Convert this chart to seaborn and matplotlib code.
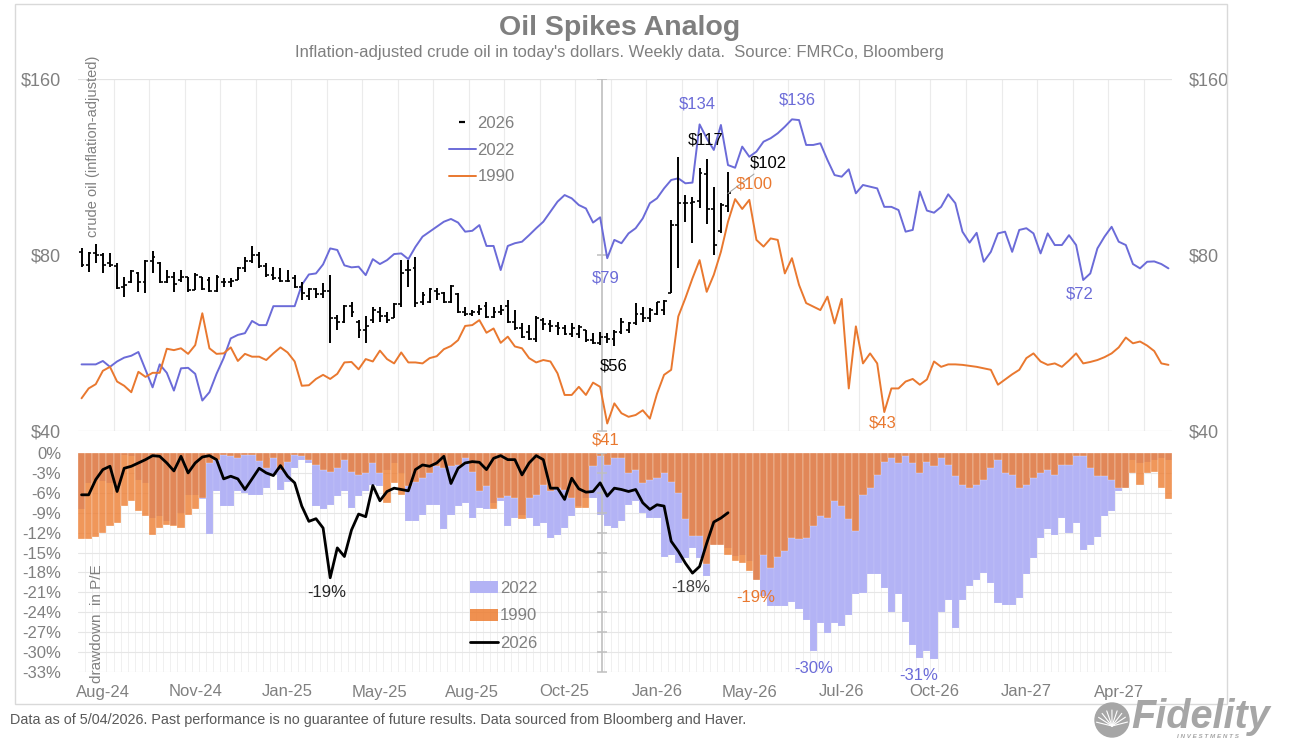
import numpy as np
import pandas as pd
import seaborn as sns
import matplotlib.pyplot as plt
from matplotlib.lines import Line2D
from matplotlib.patches import Patch, Rectangle, Ellipse

# inflation-adjusted crude oil, weekly ($), aligned analogs
oil_2022 = [
    52.0, 52.0, 52.0, 52.7, 51.5, 52.6, 53.4, 53.8, 54.6, 50.9,
    47.5, 52.0, 50.3, 46.9, 51.2, 51.3, 50.1, 45.1, 46.6, 50.1,
    53.3, 57.6, 58.4, 58.8, 61.7, 60.7, 60.7, 65.4, 65.4, 65.4,
    65.4, 71.1, 74.1, 74.4, 77.1, 82.1, 81.6, 76.8, 76.2, 76.4,
    73.9, 78.7, 77.2, 78.4, 80.3, 80.5, 78.7, 82.6, 86.0, 87.7,
    89.4, 91.2, 92.2, 90.9, 87.7, 88.0, 90.0, 82.9, 82.9, 75.4,
    82.9, 83.8, 84.3, 86.5, 88.9, 91.2, 94.9, 98.7, 101.3, 100.0,
    97.4, 96.1, 90.9, 92.8, 79.0, 84.9, 83.8, 87.1, 88.9, 92.4,
    98.1, 100.0, 104.0, 107.5, 108.2, 106.1, 106.4, 133.8, 126.7, 121.0,
    133.5, 114.0, 112.8, 122.6, 117.8, 120.2, 125.0, 126.7, 129.2, 132.6,
    136.5, 136.1, 123.4, 123.4, 124.2, 116.3, 109.6, 108.9, 112.1, 102.0,
    105.4, 104.7, 104.0, 96.7, 96.7, 95.5, 87.7, 88.3, 102.7, 95.3,
    94.5, 96.7, 101.6, 98.1, 87.7, 84.0, 87.3, 77.9, 81.0, 87.1,
    87.7, 81.0, 88.3, 88.9, 87.1, 80.5, 87.1, 83.2, 83.2, 86.5,
    83.2, 72.5, 74.4, 82.1, 86.0, 89.4, 84.3, 83.2, 77.2, 75.9,
    77.9, 78.0, 77.2, 75.9,
]
oil_1990 = [
    45.5, 47.3, 48.1, 50.7, 51.5, 48.6, 47.8, 46.6, 50.5, 49.5,
    50.3, 50.3, 55.3, 55.0, 55.4, 54.2, 56.1, 63.6, 55.4, 54.2,
    54.3, 55.6, 52.7, 54.2, 53.6, 53.6, 52.9, 54.3, 55.6, 54.5,
    52.6, 47.8, 47.9, 49.1, 49.9, 49.1, 50.1, 52.4, 52.5, 51.0,
    53.1, 52.6, 54.9, 53.1, 52.2, 54.5, 52.4, 52.4, 52.2, 53.3,
    53.7, 55.2, 55.9, 57.2, 60.5, 60.7, 61.9, 58.9, 59.9, 56.6,
    58.0, 55.8, 55.4, 53.3, 52.4, 52.9, 52.6, 50.2, 46.1, 46.1,
    47.6, 46.1, 48.4, 47.6, 41.2, 44.6, 42.9, 42.3, 42.6, 43.4,
    42.0, 46.3, 49.9, 50.9, 62.8, 67.5, 73.0, 78.4, 69.2, 74.0,
    81.0, 91.2, 99.7, 95.9, 99.4, 84.9, 82.7, 85.4, 84.9, 74.4,
    79.0, 71.1, 66.2, 65.3, 64.4, 67.9, 61.1, 67.3, 47.3, 60.4,
    52.2, 54.3, 52.2, 43.1, 47.3, 47.3, 48.6, 49.1, 48.0, 49.0,
    52.6, 51.5, 52.0, 52.0, 51.9, 51.7, 51.5, 51.2, 50.9, 48.0,
    49.0, 50.0, 50.9, 53.3, 54.3, 52.6, 51.9, 52.2, 51.5, 52.8,
    54.3, 52.2, 52.5, 52.9, 53.5, 54.3, 55.6, 57.8, 56.5, 56.9,
    56.0, 54.8, 52.2, 51.9,
]

# 2026 weekly bars (open / high / low / close)
ohlc_open = [
    81.0, 77.0, 80.5, 80.0, 77.5, 76.5, 70.5, 71.8, 74.5, 72.0,
    78.0, 77.5, 72.0, 73.5, 72.5, 73.3, 69.8, 73.3, 72.5, 69.5,
    72.0, 71.8, 72.5, 76.0, 78.0, 80.0, 76.5, 74.0, 73.0, 72.3,
    73.0, 70.6, 68.0, 70.0, 68.5, 69.5, 62.3, 61.5, 65.5, 61.5,
    59.5, 62.0, 64.0, 63.0, 62.5, 66.0, 75.4, 76.0, 66.5, 66.5,
    69.5, 69.0, 66.5, 68.5, 64.0, 63.5, 63.8, 65.5, 62.6, 64.0,
    65.5, 61.5, 60.0, 59.0, 57.5, 62.0, 61.0, 60.5, 60.0, 58.6,
    58.5, 59.5, 57.2, 56.5, 58.0, 57.5, 59.0, 59.5, 61.3, 63.5,
    62.5, 63.5, 64.5, 69.0, 90.0, 98.0, 98.0, 99.0, 110.0, 96.0,
    88.0, 97.0,
]
ohlc_high = [
    82.1, 81.0, 83.5, 80.5, 80.5, 77.4, 73.5, 75.4, 74.9, 78.4,
    81.4, 77.9, 75.4, 74.9, 75.4, 73.5, 74.4, 73.5, 73.5, 73.9,
    73.0, 73.0, 76.4, 79.5, 82.9, 81.0, 77.4, 76.4, 75.9, 75.4,
    73.9, 72.0, 70.2, 70.2, 71.6, 73.9, 63.2, 65.7, 66.6, 61.9,
    62.8, 65.3, 65.3, 64.0, 66.2, 78.4, 78.4, 79.5, 69.2, 70.2,
    70.2, 69.2, 71.1, 68.8, 65.3, 64.4, 65.7, 66.6, 65.3, 65.7,
    67.0, 64.4, 61.1, 60.7, 62.8, 62.3, 61.9, 61.5, 60.7, 61.1,
    60.7, 59.5, 58.8, 59.1, 58.8, 59.5, 62.3, 61.5, 66.2, 65.3,
    65.0, 66.6, 67.0, 91.8, 117.5, 101.3, 100.7, 112.6, 116.8, 104.7,
    98.1, 110.8,
]
ohlc_low = [
    76.4, 74.9, 77.4, 74.4, 76.4, 69.9, 67.9, 71.6, 69.2, 69.0,
    74.4, 71.6, 71.6, 69.2, 72.0, 69.2, 69.7, 69.7, 69.2, 69.2,
    70.6, 70.6, 72.5, 74.9, 77.4, 75.9, 73.5, 72.5, 72.0, 72.0,
    70.2, 67.0, 67.0, 67.5, 67.5, 56.5, 59.5, 61.1, 62.7, 57.6,
    56.5, 61.1, 61.5, 61.1, 62.3, 65.3, 70.6, 65.3, 65.7, 66.2,
    67.0, 66.2, 66.2, 63.6, 62.9, 62.8, 63.2, 62.3, 62.3, 63.2,
    61.1, 59.5, 57.6, 57.2, 56.9, 59.5, 59.1, 58.4, 58.4, 58.0,
    57.6, 56.9, 56.3, 56.2, 56.5, 55.8, 58.5, 58.8, 60.7, 61.4,
    61.4, 63.2, 63.2, 68.8, 76.1, 91.2, 83.8, 96.1, 90.3, 80.0,
    87.1, 94.6,
]
ohlc_close = [
    77.0, 80.5, 80.0, 77.0, 76.8, 70.3, 71.0, 75.0, 72.0, 78.0,
    79.5, 72.0, 73.5, 71.5, 73.5, 69.6, 74.0, 70.0, 69.5, 73.5,
    71.8, 72.3, 76.0, 78.0, 80.0, 76.5, 74.0, 73.0, 72.3, 72.2,
    70.6, 69.0, 70.0, 68.5, 69.5, 62.3, 61.5, 65.5, 64.0, 59.5,
    60.5, 64.5, 63.0, 62.0, 66.0, 74.4, 75.4, 66.2, 68.4, 70.0,
    68.5, 66.5, 70.8, 64.0, 63.5, 63.8, 64.8, 62.6, 64.0, 64.5,
    61.5, 60.0, 58.0, 57.5, 62.5, 61.0, 60.5, 60.0, 58.6, 60.0,
    60.3, 57.2, 56.5, 58.0, 57.5, 59.0, 61.5, 61.3, 63.5, 62.5,
    64.5, 66.4, 66.8, 90.0, 98.1, 98.1, 98.7, 110.4, 95.9, 83.2,
    97.4, 102.0,
]

# drawdown in P/E (%)
dd_2022 = [
    -8.5, -4.5, -4.0, -4.2, -4.5, -5.0, -0.3, -0.5, -4.0, -4.5,
    -9.8, -9.5, -10.3, -10.8, -9.0, -6.3, -6.3, -7.0, -12.2, -5.8,
    -8.0, -8.0, -5.8, -6.0, -6.3, -6.3, -5.3, -3.3, -5.5, -4.3,
    -2.3, -1.0, -1.5, -8.0, -8.5, -7.8, -6.5, -5.8, -8.3, -6.5,
    -5.8, -4.8, -5.0, -2.5, -1.5, -3.0, -10.3, -10.3, -9.3, -7.8,
    -7.8, -11.5, -9.3, -8.0, -7.5, -9.8, -8.3, -8.5, -7.5, -7.3,
    -11.0, -9.8, -9.3, -9.8, -11.0, -10.5, -12.8, -12.3, -11.3, -9.5,
    -8.0, -6.8, -6.8, -9.3, -11.0, -11.3, -10.3, -7.8, -7.3, -9.0,
    -9.8, -9.8, -15.6, -15.3, -16.6, -15.8, -14.3, -15.8, -18.6, -13.8,
    -13.8, -14.3, -15.5, -15.3, -16.3, -19.1, -21.5, -23.0, -23.0, -23.0,
    -22.5, -23.5, -25.1, -29.9, -25.6, -27.1, -25.6, -26.1, -24.4, -21.3,
    -21.1, -18.3, -18.3, -20.3, -23.9, -21.3, -25.4, -28.9, -30.9, -29.9,
    -31.0, -23.9, -22.1, -26.4, -22.1, -20.1, -19.1, -18.1, -19.6, -22.6,
    -22.9, -22.9, -21.9, -18.3, -15.8, -12.8, -11.5, -12.3, -9.8, -12.1,
    -10.5, -14.6, -13.8, -12.6, -9.5, -8.8, -5.8, -5.3, -1.0, -1.5,
    -1.3, -1.0, -0.8, -1.0,
]
dd_1990 = [
    -13.0, -13.0, -12.7, -12.1, -11.0, -10.5, -8.0, -7.3, -8.8, -9.5,
    -12.4, -11.3, -10.8, -11.0, -11.3, -9.3, -8.5, -6.8, -1.5, -1.0,
    -0.3, -0.5, -0.8, -0.3, -0.3, -1.2, -2.3, -0.8, -2.5, -1.3,
    -0.3, -0.5, -1.0, -1.8, -2.5, -2.8, -2.2, -1.0, -2.8, -3.3,
    -3.0, -1.5, -3.0, -7.5, -4.5, -6.3, -5.0, -4.3, -3.8, -3.0,
    -2.0, -2.3, -2.0, -1.8, -0.8, -2.8, -5.8, -5.0, -8.5, -6.8,
    -6.5, -6.8, -9.9, -6.8, -6.3, -4.8, -5.8, -5.3, -5.5, -6.8,
    -8.3, -8.3, -2.0, -0.5, -1.8, -0.8, -0.8, -3.0, -2.5, -4.5,
    -4.0, -3.8, -3.0, -4.3, -6.0, -10.0, -12.5, -12.5, -16.8, -13.8,
    -13.8, -15.3, -16.3, -16.6, -17.8, -19.1, -15.3, -17.3, -15.6, -14.8,
    -12.8, -13.0, -12.8, -11.0, -9.5, -9.8, -7.3, -8.0, -10.0, -11.8,
    -6.3, -5.3, -3.3, -1.3, -0.8, -1.5, -0.5, -1.5, -3.0, -1.3,
    -2.0, -0.8, -1.8, -3.5, -4.8, -5.3, -4.8, -4.0, -2.3, -1.0,
    -3.0, -3.3, -5.3, -4.8, -3.8, -3.0, -2.5, -3.3, -1.8, -1.8,
    -0.5, -0.5, -2.3, -3.5, -3.5, -4.0, -5.3, -5.3, -3.0, -4.8,
    -3.0, -2.8, -5.3, -7.0,
]
dd_2026 = [
    -6.3, -6.3, -4.0, -2.5, -2.0, -5.8, -2.3, -2.0, -1.5, -1.0,
    -0.4, -0.5, -1.5, -2.7, -0.5, -3.0, -1.5, -0.6, -0.4, -1.0,
    -3.9, -3.5, -3.9, -5.5, -3.9, -2.3, -3.0, -3.4, -1.9, -3.5,
    -4.5, -8.0, -10.3, -9.9, -11.3, -18.8, -14.3, -15.6, -11.6, -9.2,
    -9.6, -4.9, -7.2, -5.8, -5.3, -5.5, -5.7, -2.5, -1.8, -2.0,
    -1.5, -0.5, -4.6, -2.3, -1.5, -1.3, -1.4, -2.5, -0.8, -0.4,
    -1.0, -1.0, -3.3, -1.5, -0.4, -1.0, -5.3, -5.3, -7.0, -3.8,
    -5.4, -5.9, -5.8, -4.5, -6.5, -5.3, -5.5, -5.8, -5.5, -7.5,
    -8.5, -7.8, -8.0, -13.3, -14.8, -16.6, -18.1, -17.1, -13.6, -10.4,
    -9.8, -9.0,
]

tick_labels = ["Aug-24", "Nov-24", "Jan-25", "May-25", "Aug-25", "Oct-25",
               "Jan-26", "May-26", "Jul-26", "Oct-26", "Jan-27", "Apr-27"]

BLUE = "#6B6BD8"
ORANGE = "#E9782F"
PURPLE = "#B3B3F5"
BAR_ORANGE = "#ED7D31"
GRAY = "#808080"

sns.set_theme(style="white")
plt.rcParams["font.family"] = ["Liberation Sans", "DejaVu Sans"]

W, H = 1295, 751
fig = plt.figure(figsize=(W / 100, H / 100), dpi=100)


def box(left, top, right, bottom):
    return [left / W, 1 - bottom / H, (right - left) / W, (bottom - top) / H]


ax1 = fig.add_axes(box(78, 79, 1172, 431))
ax2 = fig.add_axes(box(78, 453, 1172, 672))

weeks = np.arange(len(oil_2022))
weeks_26 = np.arange(len(ohlc_close))
df = pd.DataFrame({"week": weeks, "oil_2022": oil_2022, "oil_1990": oil_1990,
                   "dd_2022": dd_2022, "dd_1990": dd_1990})
analog_x = 73.3  # where the analogs are lined up

# ---- top panel: oil
ax1.set_yscale("log", base=2)
for x in np.arange(4.5, len(weeks), 5):
    ax1.axvline(x, color="#EBEBEB", lw=0.8, zorder=0)
for y in [40, 160]:
    ax1.axhline(y, color="#E3E3E3", lw=0.9, zorder=0)
ax1.axvline(analog_x, color="#BFBFBF", lw=1.2, zorder=1)
ax1.plot([analog_x] * 3, [40, 80, 160], marker="_", ms=7, mew=1.1,
         color="#BFBFBF", ls="none", zorder=1)

sns.lineplot(data=df, x="week", y="oil_2022", ax=ax1, color=BLUE, lw=1.4, zorder=2)
sns.lineplot(data=df, x="week", y="oil_1990", ax=ax1, color=ORANGE, lw=1.4, zorder=2)

ax1.vlines(weeks_26, ohlc_low, ohlc_high, color="black", lw=1.4, zorder=3)
ax1.hlines(ohlc_open, weeks_26 - 0.4, weeks_26, color="black", lw=1.2, zorder=3)
ax1.hlines(ohlc_close, weeks_26, weeks_26 + 0.4, color="black", lw=1.2, zorder=3)

ax1.set_xlim(-0.5, len(weeks) - 0.5)
ax1.set_ylim(40, 160)
ax1.minorticks_off()
ax1.set_yticks([40, 80, 160])
ax1.set_yticklabels(["$40", "$80", "$160"])
ax1.tick_params(axis="y", length=0, pad=12, labelsize=13, labelcolor=GRAY,
                labelright=True)
ax1.tick_params(axis="x", length=0, labelbottom=False)
ax1.set_xlabel("")
ax1.set_ylabel("")
for s in ax1.spines.values():
    s.set_visible(False)


def note(ax, text, xy, off, color, **kw):
    ax.annotate(text, xy=xy, xytext=off, textcoords="offset pixels",
                ha=kw.pop("ha", "center"), va="center", color=color,
                fontsize=12, **kw)


note(ax1, "$134", (87, oil_2022[87]), (-2, 20), BLUE)
note(ax1, "$136", (100, oil_2022[100]), (5, 19), BLUE)
note(ax1, "$117", (88, ohlc_high[88]), (-1, 19), "black")
note(ax1, "$102", (91, ohlc_close[91]), (22, 30), "black", ha="left",
     arrowprops=dict(arrowstyle="-", color="#A6A6A6", lw=0.8,
                     shrinkA=0, shrinkB=0))
note(ax1, "$100", (92, oil_1990[92]), (19, 15), ORANGE)
note(ax1, "$79", (74, oil_2022[74]), (-2, -20), BLUE)
note(ax1, "$56", (75, ohlc_low[75]), (-1, -20), "black")
note(ax1, "$41", (74, oil_1990[74]), (-2, -17), ORANGE, annotation_clip=False)
note(ax1, "$43", (113, oil_1990[113]), (-2, -11), ORANGE)
note(ax1, "$72", (141, oil_2022[141]), (-3, -14), BLUE)

# ---- bottom panel: P/E drawdowns
for x in np.arange(0.5, len(weeks), 1):
    ax2.axvline(x, color="#F0F0F0", lw=0.7, zorder=0)
for y in range(0, -34, -3):
    ax2.axhline(y, color="#E6E6E6", lw=0.8, zorder=0)

edge = (1, 1, 1, 0.25)
sns.barplot(data=df, x="week", y="dd_2022", native_scale=True, width=1.0,
            color=PURPLE, saturation=1, errorbar=None, edgecolor=edge,
            linewidth=0.25, ax=ax2, zorder=2)
sns.barplot(data=df, x="week", y="dd_1990", native_scale=True, width=1.0,
            color=BAR_ORANGE, alpha=0.8, saturation=1, errorbar=None,
            edgecolor=edge, linewidth=0.25, ax=ax2, zorder=3)
sns.lineplot(x=weeks_26, y=dd_2026, ax=ax2, color="black", lw=2, zorder=4)

ax2.axvline(analog_x, color="#BFBFBF", lw=1.2, zorder=3.5)
ax2.plot([analog_x] * 12, list(range(0, -34, -3)), marker="_", ms=7, mew=1.1,
         color="#BFBFBF", ls="none", zorder=3.5)

ax2.set_xlim(-0.5, len(weeks) - 0.5)
ax2.set_ylim(-33, 0)
ax2.set_yticks(range(0, -34, -3))
ax2.set_yticklabels([f"{v}%" for v in range(0, -34, -3)])
ax2.set_xticks(np.arange(3, len(weeks), 13))
ax2.set_xticklabels(tick_labels)
ax2.tick_params(axis="both", length=0, labelsize=12, labelcolor=GRAY)
ax2.tick_params(axis="y", pad=12)
ax2.tick_params(axis="x", pad=9)
ax2.set_xlabel("")
ax2.set_ylabel("")
for s in ax2.spines.values():
    s.set_visible(False)

note(ax2, "-19%", (35, dd_2026[35]), (-3, -15), "#262626")
note(ax2, "-18%", (86, dd_2026[86]), (-2, -14), "#404040")
note(ax2, "-19%", (95, dd_1990[95]), (-1, -18), ORANGE)
note(ax2, "-30%", (103, dd_2022[103]), (0, -17), BLUE, annotation_clip=False)
note(ax2, "-31%", (118, dd_2022[118]), (-1, -17), BLUE, annotation_clip=False)

# ---- legends
top_handles = [
    Line2D([], [], color="black", marker="_", ms=4, mew=1.6, ls="none"),
    Line2D([], [], color=BLUE, lw=1.4),
    Line2D([], [], color=ORANGE, lw=1.4),
]
fig.legend(top_handles, ["2026", "2022", "1990"], loc="upper left",
           bbox_to_anchor=(434 / W, 1 - 101 / H), frameon=False, fontsize=12,
           labelcolor=GRAY, handlelength=1.6, handletextpad=0.1,
           labelspacing=0.7)
bottom_handles = [
    Patch(facecolor=PURPLE, edgecolor="none"),
    Patch(facecolor=BAR_ORANGE, alpha=0.85, edgecolor="none"),
    Line2D([], [], color="black", lw=2),
]
fig.legend(bottom_handles, ["2022", "1990", "2026"], loc="upper left",
           bbox_to_anchor=(455 / W, 1 - 566 / H), frameon=False, fontsize=12,
           labelcolor=GRAY, handlelength=1.7, handletextpad=0.1,
           labelspacing=0.75)

# ---- titles and notes
fig.text(620 / W, 1 - 28 / H, "Oil Spikes Analog", ha="center", va="center",
         fontsize=20.5, fontweight="bold", color="#7F7F7F")
fig.text(619 / W, 1 - 52 / H,
         "Inflation-adjusted crude oil in today's dollars. Weekly data.  Source: FMRCo, Bloomberg",
         ha="center", va="center", fontsize=12, color="#7F7F7F")
fig.text(93 / W, 1 - 146 / H, "crude oil (inflation-adjusted)", rotation=90,
         ha="center", va="center", fontsize=10.5, color=GRAY)
fig.text(97 / W, 1 - 624 / H, "drawdown  in P/E", rotation=90,
         ha="center", va="center", fontsize=11, color=GRAY)
fig.text(10 / W, 1 - 720 / H,
         "Data as of 5/04/2026. Past performance is no guarantee of future results. "
         "Data sourced from Bloomberg and Haver.",
         ha="left", va="center", fontsize=10.4, color="#595959")

fig.add_artist(Rectangle((15 / W, 1 - 704 / H), 1212 / W, 700 / H,
                         transform=fig.transFigure, fill=False,
                         edgecolor="#D9D9D9", lw=1))

# logo
fig.add_artist(Ellipse((1112 / W, 1 - 720 / H), 34 / W, 34 / H,
                       transform=fig.transFigure, color="#A6A6A6"))
for a in np.linspace(0.25, 2.9, 9):
    fig.add_artist(Line2D([1112 / W, (1112 + 16 * np.cos(a)) / W],
                          [1 - 726 / H, 1 - (726 - 16 * np.sin(a)) / H],
                          transform=fig.transFigure, color="white", lw=0.8))
fig.text(1131 / W, 1 - 717 / H, "Fidelity", ha="left", va="center",
         fontsize=28.5, fontweight="bold", fontstyle="italic", color="#A6A6A6")
fig.text(1208 / W, 1 - 736 / H, "I N V E S T M E N T S", ha="center",
         va="center", fontsize=4.5, fontweight="bold", fontstyle="italic",
         color="#A6A6A6")

fig.savefig("out.png", dpi=100)
